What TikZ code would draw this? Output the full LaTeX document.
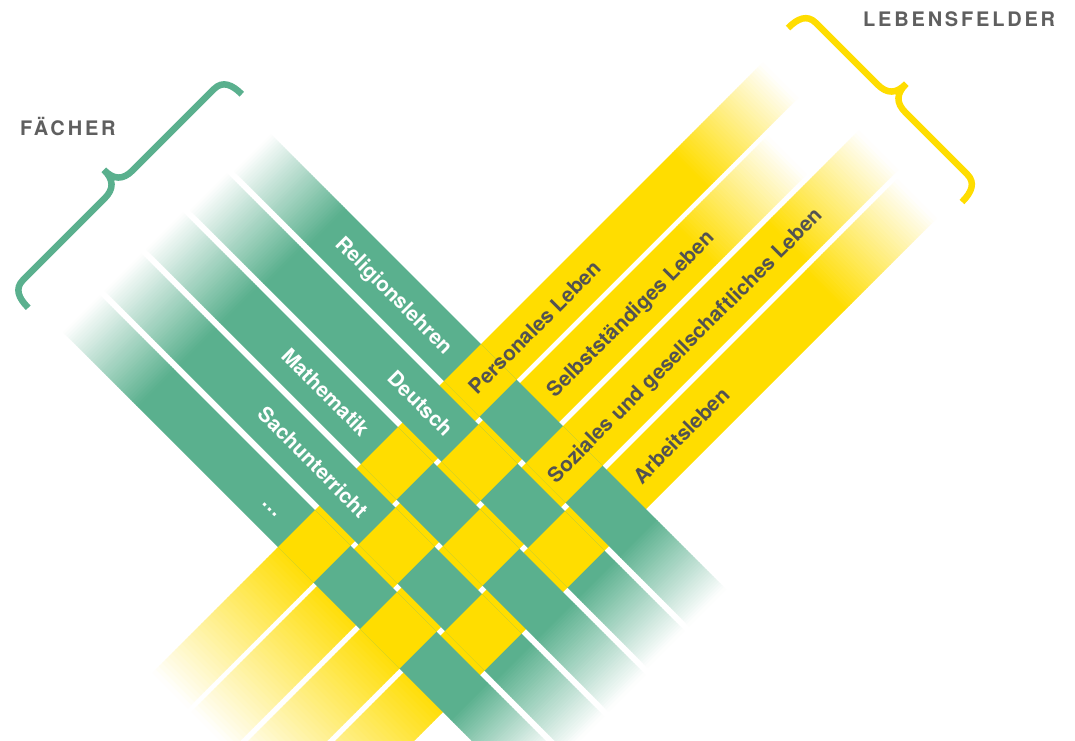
\documentclass[tikz,border=0pt]{standalone}
\usepackage{fontspec}
\setmainfont{TeX Gyre Heros}
\definecolor{gband}{RGB}{90,176,142}
\definecolor{yband}{RGB}{255,221,0}
\definecolor{ltxt}{RGB}{82,82,82}
\definecolor{htxt}{RGB}{95,95,95}
\newcommand\nst{40}
% green band: d1 d2 t0 t1 t2 t3 (along t = x+y)
\newcommand\gbandfill[6]{%
  \foreach \i in {1,...,\nst}{%
    \pgfmathsetmacro\ta{(#3)+(\i-1)*((#4)-(#3))/\nst}%
    \pgfmathsetmacro\tb{(#3)+\i*((#4)-(#3))/\nst+0.8}%
    \pgfmathsetmacro\pp{(\i-0.5)*100/\nst}%
    \fill[gband!\pp!white] (\ta,#1) -- (\tb,#1) -- (\tb,#2) -- (\ta,#2) -- cycle;
    \pgfmathsetmacro\tc{(#5)+(\i-1)*((#6)-(#5))/\nst-0.8}%
    \pgfmathsetmacro\td{(#5)+\i*((#6)-(#5))/\nst}%
    \pgfmathsetmacro\pq{100-(\i-0.5)*100/\nst}%
    \fill[gband!\pq!white] (\tc,#1) -- (\td,#1) -- (\td,#2) -- (\tc,#2) -- cycle;
  }%
  \fill[gband] (#4,#1) -- (#5,#1) -- (#5,#2) -- (#4,#2) -- cycle;
}
% yellow band: t1 t2 d0 d1 d2 d3 (along d = x-y)
\newcommand\ybandfill[6]{%
  \foreach \i in {1,...,\nst}{%
    \pgfmathsetmacro\ta{(#3)+(\i-1)*((#4)-(#3))/\nst}%
    \pgfmathsetmacro\tb{(#3)+\i*((#4)-(#3))/\nst+0.8}%
    \pgfmathsetmacro\pp{(\i-0.5)*100/\nst}%
    \fill[yband!\pp!white] (#1,\ta) -- (#1,\tb) -- (#2,\tb) -- (#2,\ta) -- cycle;
    \pgfmathsetmacro\tc{(#5)+(\i-1)*((#6)-(#5))/\nst-0.8}%
    \pgfmathsetmacro\td{(#5)+\i*((#6)-(#5))/\nst}%
    \pgfmathsetmacro\pq{100-(\i-0.5)*100/\nst}%
    \fill[yband!\pq!white] (#1,\tc) -- (#1,\td) -- (#2,\td) -- (#2,\tc) -- cycle;
  }%
  \fill[yband] (#1,#4) -- (#1,#5) -- (#2,#5) -- (#2,#4) -- cycle;
}
\tikzset{
  glabel/.style={text=white, font=\bfseries\fontsize{20.7}{24}\selectfont, rotate=-45,
    inner sep=0pt, text height=14.9pt, text depth=0pt},
  ylabel/.style={text=ltxt, font=\bfseries\fontsize{20.7}{24}\selectfont, rotate=45,
    inner sep=0pt, text height=14.9pt, text depth=0pt, anchor=west},
  hdr/.style={text=htxt, font=\bfseries\fontsize{20}{24}\selectfont\addfontfeature{LetterSpace=14},
    inner sep=0pt, text height=14.4pt, text depth=0pt, anchor=west},
  bracestroke/.style={line width=6.5pt, line join=miter},
}
\begin{document}
\begin{tikzpicture}[x=1pt,y=1pt]
\useasboundingbox (0,0) rectangle (1075,-740);
\fill[white] (0,0) rectangle (1075,-740);
\clip (0,0) rectangle (1075,-740);
\begin{scope}[cm={0.5,-0.5,0.5,0.5,(0,0)}]
  % yellow bands (Lebensfelder)
  \ybandfill{825}{896}{-520}{-260}{520}{700}
  \ybandfill{903}{981}{-520}{-260}{450}{632}
  \ybandfill{989}{1068}{-520}{-260}{545}{728}
  \ybandfill{1076}{1155}{-520}{-260}{535}{718}
  % green bands (Faecher)
  \gbandfill{63}{137}{405}{555}{1175}{1315}
  \gbandfill{-20}{54}{400}{550}{1175}{1315}
  \gbandfill{-103}{-29}{395}{545}{1175}{1320}
  \gbandfill{-186}{-112}{395}{545}{1175}{1320}
  \gbandfill{-269}{-195}{395}{545}{1170}{1300}
  % yellow on top at alternate crossings
  \foreach \da/\db/\ta/\tb in {63/137/825/896, 63/137/989/1068, -20/54/903/981, -20/54/1076/1155,
     -103/-29/825/896, -103/-29/989/1068, -186/-112/903/981, -186/-112/1076/1155,
     -269/-195/825/896, -269/-195/989/1068}
    \fill[yband] (\ta,\da) -- (\tb,\da) -- (\tb,\db) -- (\ta,\db) -- cycle;
  % labels
  \node[glabel, anchor=east] (lrel) at (800,100) {Religionslehren};
  \node[glabel, anchor=east] (ldeu) at (882,17) {Deutsch};
  \node[glabel, anchor=east] (lmat) at (799,-66) {Mathematik};
  \node[glabel, anchor=east] (lsac) at (879,-149) {Sachunterricht};
  \node[glabel] (ldot) at (780,-232) {…};
  \node[ylabel] (lper) at (862,82) {Personales Leben};
  \node[ylabel] (lsel) at (944,157) {Selbstständiges Leben};
  \node[ylabel] (lsoz) at (1030,72) {Soziales und gesellschaftliches Leben};
  \node[ylabel] (larb) at (1117,157) {Arbeitsleben};
\end{scope}
% braces
\begin{scope}[shift={(135,-201)}, rotate=45]
  \draw[gband, bracestroke] (-151,0) .. controls (-151,14) and (-147,23.3) .. (-135,23.3)
    -- (-20,23.3) .. controls (-6,23.3) and (0,30) .. (0,44)
    .. controls (0,30) and (6,23.3) .. (20,23.3) -- (135,23.3)
    .. controls (147,23.3) and (151,14) .. (151,0);
\end{scope}
\begin{scope}[shift={(875,-115)}, rotate=-45]
  \draw[yband, bracestroke] (-123,0) .. controls (-123,14) and (-119,23.3) .. (-107,23.3)
    -- (-20,23.3) .. controls (-6,23.3) and (0,30) .. (0,44)
    .. controls (0,30) and (6,23.3) .. (20,23.3) -- (107,23.3)
    .. controls (119,23.3) and (123,14) .. (123,0);
\end{scope}
% headings
\node[hdr] (hfae) at (20,-128.5) {FÄCHER};
\node[hdr] (hleb) at (863,-18.8) {LEBENSFELDER};
\end{tikzpicture}
\end{document}
